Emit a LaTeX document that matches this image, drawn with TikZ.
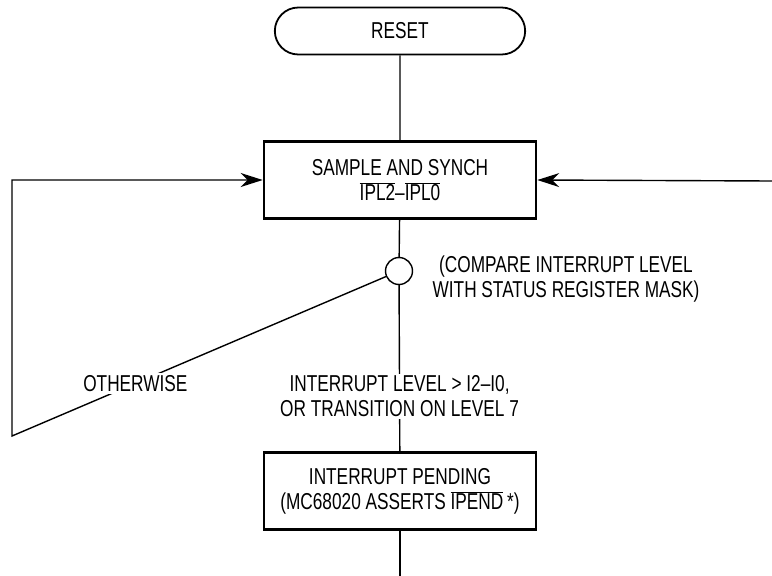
\documentclass[tikz,border=0pt]{standalone}
\usepackage{fontspec}
\setmainfont[FakeStretch=0.75]{Liberation Sans}
\usetikzlibrary{arrows.meta, positioning, shapes.misc}
\newcommand{\flowfont}{\fontsize{23}{25}\selectfont}

\begin{document}
\begin{tikzpicture}[x=1pt, y=-1pt,
                box/.style={rectangle,
                draw,
                line width=2.6pt,
                minimum width=272pt,
                minimum height=77pt,
                font=\flowfont,
                align=center},
                term/.style={rounded rectangle,
                draw,
                line width=1.8pt,
                minimum width=257pt,
                minimum height=47pt,
                font=\flowfont},
                junc/.style={circle, draw, line width=1.4pt,
                minimum size=27pt, inner sep=0pt},
                txt/.style={font=\flowfont, align=center,
                fill=white, inner sep=2pt},
                wire/.style={line width=1.4pt},
                arr/.style={-{Stealth[length=22pt, width=14pt, inset=7pt]},
                line width=1.4pt}]
                \useasboundingbox (0,0) rectangle (772,576);
                \node[term] (reset) at (400,31) {RESET};
                \node[box] (sample) at (400,180)
                    {SAMPLE AND SYNCH\\
                     $\overline{\mbox{IPL2}}$–$\overline{\mbox{IPL0}}$};
                \node[junc] (cmp) at (399,271) {};
                \node[txt, fill=none] (cmptxt) at (566,279)
                    {(COMPARE INTERRUPT LEVEL\\WITH STATUS REGISTER MASK)};
                \node[box] (pend) at (400,491)
                    {INTERRUPT PENDING\\
                     (MC68020 ASSERTS $\overline{\mbox{IPEND}}$\,*)};
                \coordinate (lbot) at (12,436);
                \coordinate (rin) at (772,181);
                \coordinate (exit) at (400,576);
                \draw[wire] (reset)--(sample);
                \draw[wire] (sample)--(cmp);
                \draw[wire] (cmp)-- node[txt, pos=0.67] (yes)
                    {INTERRUPT LEVEL > I2–I0,\\OR TRANSITION ON LEVEL 7} (pend);
                \draw[arr] (cmp)-- node[txt, pos=0.67] (no) {OTHERWISE}
                    (lbot) |- (sample.west);
                \draw[arr] (rin)--(sample.east);
                \draw[wire] (pend)--(exit);
            \end{tikzpicture}
\end{document}
